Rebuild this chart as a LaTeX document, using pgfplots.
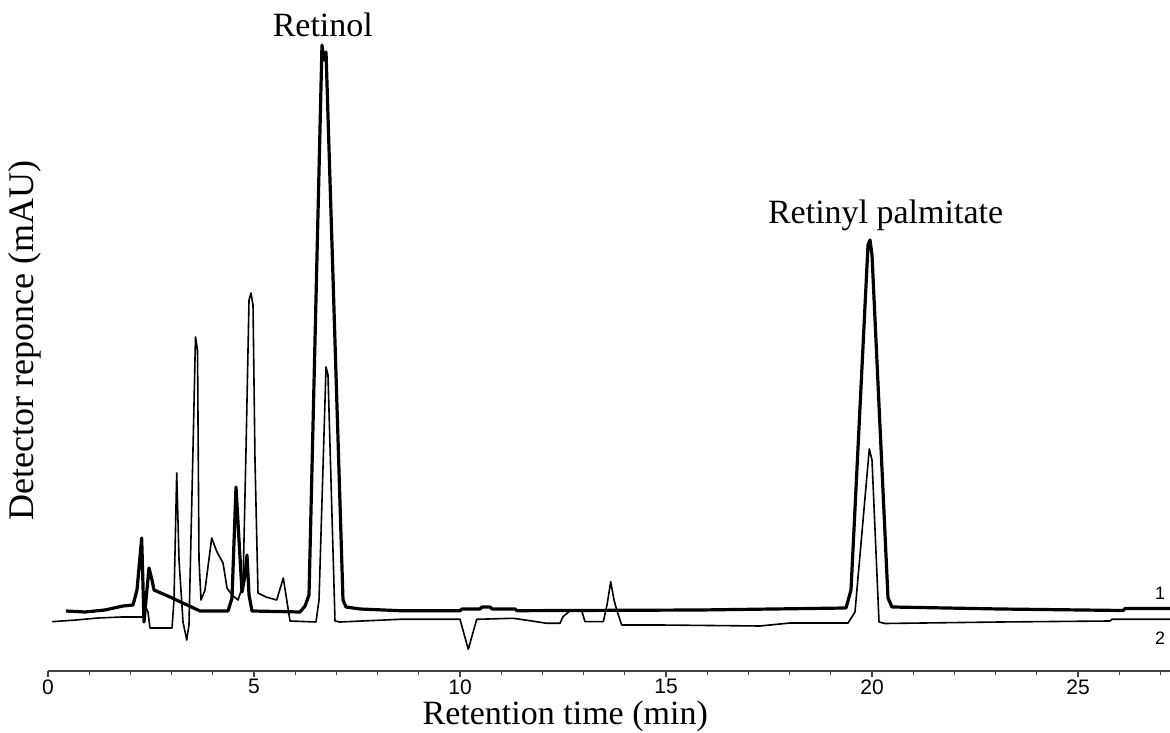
\documentclass[border=0pt]{standalone}
\usepackage{fontspec}
\setmainfont{Liberation Serif}
\newfontfamily\ticksans{Liberation Sans}
\usepackage{pgfplots}
\pgfplotsset{compat=1.18}
\begin{document}
\begin{tikzpicture}
\begin{axis}[
  scale only axis,
  width=561pt, height=335.5pt,
  xmin=0, xmax=27.233, ymin=0, ymax=671,
  axis x line=bottom, axis y line=none,
  x axis line style={-, black!75, line width=0.7pt},
  xtick={0,5,10,15,20,25},
  minor xtick={1,2,3,4,6,7,8,9,11,12,13,14,16,17,18,19,21,22,23,24,26,27},
  tick align=outside,
  major tick length=3pt, minor tick length=2pt,
  every tick/.style={black!75, line width=0.6pt},
  /pgf/number format/assume math mode=true,
  xticklabel style={font=\fontsize{10.5}{12}\selectfont\ticksans, anchor=north, yshift=0pt, inner sep=1pt},
  xlabel={Retention time (min)},
  xlabel style={font=\fontsize{17}{20}\selectfont, at={(axis description cs:0.461,0)}, anchor=base, yshift=-26.5pt, inner sep=0pt},
  clip=false,
]
% trace 1 (thick)
\addplot[black, line width=1.6pt, line join=round] coordinates {
(0.437,60) (0.898,59) (1.383,61) (1.820,65) (2.063,66) (2.160,81) (2.274,133)
(2.330,49) (2.379,71) (2.451,103) (2.524,91) (2.573,81) (2.961,74) (3.325,67)
(3.689,60) (4.369,60) (4.466,73) (4.563,184) (4.636,131) (4.709,79) (4.782,96)
(4.830,116) (4.879,76) (4.951,60) (6.117,59) (6.238,65) (6.335,76) (6.650,626)
(6.699,611) (6.748,619) (7.160,71) (7.233,64) (7.573,62) (8.544,60.3) (10.0,60.3)
(10.049,62) (10.485,62) (10.534,64) (10.728,64) (10.777,62) (11.335,62) (11.383,60.3)
(15.825,61) (19.369,63) (19.49,81) (19.903,426) (19.951,431) (20.0,416) (20.388,73)
(20.485,64) (23.107,62) (26.092,60.5) (26.141,62.5) (27.233,62.5)
};
% trace 2 (thin)
\addplot[black, line width=0.8pt, line join=round] coordinates {
(0.097,49.3) (0.680,51) (1.214,53) (1.796,54) (2.306,54) (2.379,63) (2.427,59)
(2.476,43) (3.010,43) (3.058,71) (3.124,198) (3.180,111) (3.277,49) (3.367,31)
(3.422,46) (3.519,221) (3.580,334) (3.629,321) (3.665,111) (3.714,71) (3.811,81)
(3.973,133) (4.102,119) (4.248,108) (4.345,83) (4.466,76) (4.612,71) (4.733,86)
(4.806,221) (4.879,371) (4.927,378) (4.976,366) (5.024,211) (5.097,78) (5.291,74)
(5.551,71) (5.711,93) (5.874,50) (6.505,49) (6.578,71) (6.748,304) (6.796,296)
(6.966,50) (7.087,49) (8.544,51.7) (10.0,51.7) (10.201,21.7) (10.405,51.7)
(11.286,52.7) (11.699,50.3) (12.104,47.7) (12.427,47.7) (12.5,54.3) (12.67,60.3)
(12.954,60.3) (13.034,49.3) (13.478,49.3) (13.568,66) (13.658,89.3) (13.738,71)
(13.811,60) (13.925,46) (14.854,46) (17.282,45) (18.010,48) (19.417,48) (19.587,59)
(19.934,222) (20.0,211) (20.170,49) (20.316,47.5) (23.107,49) (25.777,50)
(25.825,51.7) (27.233,51.7)
};
\node[font=\fontsize{17}{20}\selectfont] at (axis cs:6.67,646) {Retinol};
\node[font=\fontsize{17}{20}\selectfont] at (axis cs:20.33,456) {Retinyl palmitate};
\node[font=\fontsize{9}{10}\selectfont\ticksans] at (axis cs:26.99,78) {1};
\node[font=\fontsize{9}{10}\selectfont\ticksans] at (axis cs:26.99,33) {2};
\node[font=\fontsize{18}{21}\selectfont, rotate=90, anchor=center, inner sep=0pt] at (rel axis cs:-0.0205,0.493) {Detector reponce (mAU)};
\end{axis}
\pgfresetboundingbox
\path[use as bounding box] (-24pt,-30.5pt) rectangle (561pt,335.5pt);
\end{tikzpicture}
\end{document}
